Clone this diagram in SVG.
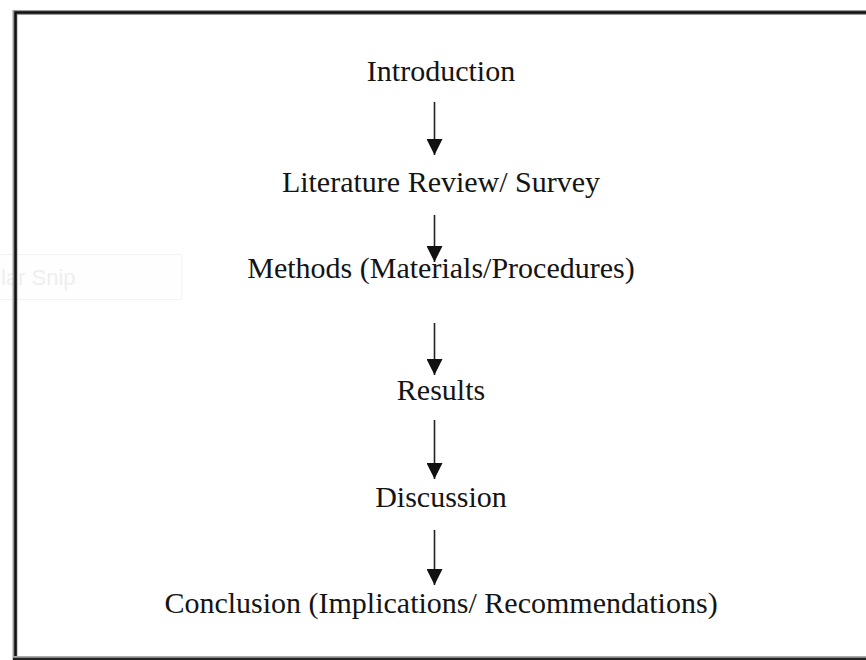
<svg xmlns="http://www.w3.org/2000/svg" width="866" height="660" viewBox="0 0 866 660">
<defs>
<style>
.t{font-family:"Liberation Serif","Times New Roman",serif;font-size:30px;fill:#141414;text-anchor:middle}
.c{stroke:#222;stroke-width:1.6;fill:none}
</style>
<marker id="ah" markerWidth="16" markerHeight="16" refX="14" refY="7" orient="auto" markerUnits="userSpaceOnUse" viewBox="0 0 14 14">
<path d="M0,0 L14,7 L0,14 Z" fill="#111"/>
</marker>
</defs>
<rect width="866" height="660" fill="#fff"/>
<g id="snip">
<rect x="-2" y="254.5" width="184" height="45" rx="2" fill="#fefefe" stroke="#f2f2f6" stroke-width="1"/>
<text x="1" y="285" style="font-family:'Liberation Sans',Arial,sans-serif;font-size:22px;fill:#eeeeee">lar Snip</text>
</g>
<g id="frame" fill="none">
<path d="M15,660 V12.5 H866" stroke="#999" stroke-width="5"/>
<path d="M15.5,660 V12.5 H866" stroke="#111" stroke-width="2.5"/>
<path d="M13,657 H866" stroke="#aaa" stroke-width="2"/>
<path d="M13,659 H866" stroke="#222" stroke-width="2.5"/>
</g>
<g id="connectors">
<line class="c" x1="434.5" y1="102" x2="434.5" y2="155" marker-end="url(#ah)"/>
<line class="c" x1="434.5" y1="215" x2="434.5" y2="262" marker-end="url(#ah)"/>
<line class="c" x1="434.5" y1="323" x2="434.5" y2="375" marker-end="url(#ah)"/>
<line class="c" x1="434.5" y1="420" x2="434.5" y2="479" marker-end="url(#ah)"/>
<line class="c" x1="434.5" y1="530" x2="434.5" y2="585" marker-end="url(#ah)"/>
</g>
<g id="n1"><text class="t" x="441" y="81">Introduction</text></g>
<g id="n2"><text class="t" x="441" y="192">Literature Review/ Survey</text></g>
<g id="n3"><text class="t" x="441" y="278">Methods (Materials/Procedures)</text></g>
<g id="n4"><text class="t" x="441" y="400">Results</text></g>
<g id="n5"><text class="t" x="441" y="507">Discussion</text></g>
<g id="n6"><text class="t" x="441" y="613">Conclusion (Implications/ Recommendations)</text></g>
</svg>
